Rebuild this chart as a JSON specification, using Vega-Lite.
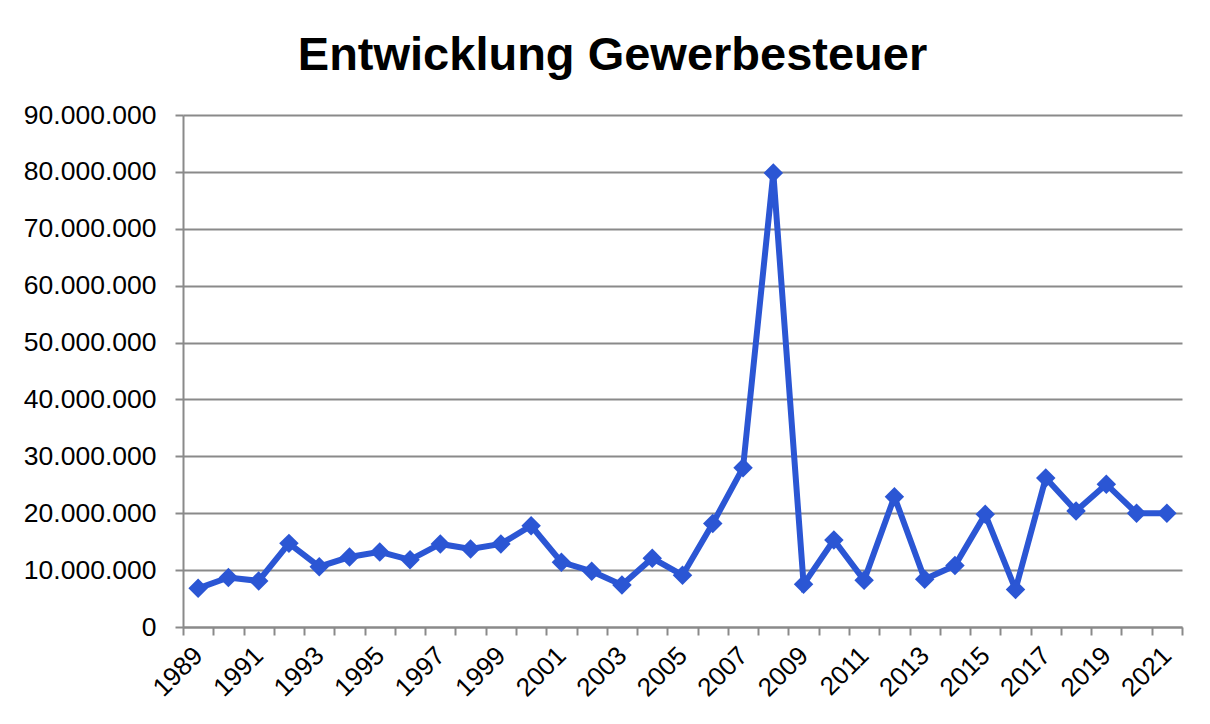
{
  "$schema": "https://vega.github.io/schema/vega-lite/v6.json",
  "width": 999,
  "height": 512,
  "autosize": "none",
  "padding": {"left": 183, "top": 115, "right": 28, "bottom": 97},
  "background": "white",
  "title": {
    "text": "Entwicklung Gewerbesteuer",
    "font": "Liberation Sans",
    "fontSize": 47,
    "fontWeight": "bold",
    "color": "black",
    "anchor": "middle",
    "dx": -70,
    "offset": 22
  },
  "data": {
    "values": [
      {"year": 1989, "value": 6800000},
      {"year": 1990, "value": 8700000},
      {"year": 1991, "value": 8100000},
      {"year": 1992, "value": 14700000},
      {"year": 1993, "value": 10600000},
      {"year": 1994, "value": 12300000},
      {"year": 1995, "value": 13200000},
      {"year": 1996, "value": 11800000},
      {"year": 1997, "value": 14600000},
      {"year": 1998, "value": 13700000},
      {"year": 1999, "value": 14600000},
      {"year": 2000, "value": 17800000},
      {"year": 2001, "value": 11400000},
      {"year": 2002, "value": 9800000},
      {"year": 2003, "value": 7400000},
      {"year": 2004, "value": 12100000},
      {"year": 2005, "value": 9100000},
      {"year": 2006, "value": 18200000},
      {"year": 2007, "value": 28000000},
      {"year": 2008, "value": 79800000},
      {"year": 2009, "value": 7500000},
      {"year": 2010, "value": 15300000},
      {"year": 2011, "value": 8200000},
      {"year": 2012, "value": 22900000},
      {"year": 2013, "value": 8400000},
      {"year": 2014, "value": 10800000},
      {"year": 2015, "value": 19800000},
      {"year": 2016, "value": 6600000},
      {"year": 2017, "value": 26200000},
      {"year": 2018, "value": 20400000},
      {"year": 2019, "value": 25100000},
      {"year": 2020, "value": 20000000},
      {"year": 2021, "value": 20000000}
    ]
  },
  "mark": {
    "type": "line",
    "color": "#2B56D4",
    "strokeWidth": 6,
    "strokeJoin": "miter",
    "point": {"shape": "diamond", "size": 380, "filled": true, "color": "#2B56D4", "opacity": 1}
  },
  "encoding": {
    "x": {
      "field": "year",
      "type": "quantitative",
      "scale": {"domain": [1988.5, 2021.5], "nice": false, "zero": false},
      "axis": {
        "title": null,
        "values": [1988.5, 1989, 1989.5, 1990.5, 1991, 1991.5, 1992.5, 1993, 1993.5, 1994.5, 1995, 1995.5, 1996.5, 1997, 1997.5, 1998.5, 1999, 1999.5, 2000.5, 2001, 2001.5, 2002.5, 2003, 2003.5, 2004.5, 2005, 2005.5, 2006.5, 2007, 2007.5, 2008.5, 2009, 2009.5, 2010.5, 2011, 2011.5, 2012.5, 2013, 2013.5, 2014.5, 2015, 2015.5, 2016.5, 2017, 2017.5, 2018.5, 2019, 2019.5, 2020.5, 2021, 2021.5],
        "labelExpr": "datum.value % 1 === 0 ? ('' + datum.value) : ''",
        "tickOpacity": {"condition": {"test": "datum.value % 1 === 0", "value": 0}, "value": 1},
        "labelAngle": -45,
        "labelAlign": "right",
        "labelBaseline": "middle",
        "labelOverlap": false,
        "labelFlush": false,
        "labelBound": false,
        "labelPadding": 16,
        "labelFont": "Liberation Sans",
        "labelFontSize": 26,
        "labelColor": "black",
        "grid": false,
        "domainColor": "#8a8a8a",
        "domainWidth": 2,
        "tickColor": "#8a8a8a",
        "tickWidth": 2,
        "tickSize": 8
      }
    },
    "y": {
      "field": "value",
      "type": "quantitative",
      "scale": {"domain": [0, 90000000], "nice": false},
      "axis": {
        "title": null,
        "values": [0, 10000000, 20000000, 30000000, 40000000, 50000000, 60000000, 70000000, 80000000, 90000000],
        "labelExpr": "replace(format(datum.value, ','), regexp(',', 'g'), '.')",
        "labelFont": "Liberation Sans",
        "labelFontSize": 26.5,
        "labelColor": "black",
        "labelPadding": 19,
        "grid": true,
        "gridColor": "#8a8a8a",
        "gridWidth": 2,
        "domainColor": "#8a8a8a",
        "domainWidth": 2,
        "tickColor": "#8a8a8a",
        "tickWidth": 2,
        "tickSize": 8
      }
    }
  },
  "config": {"view": {"stroke": null}}
}
